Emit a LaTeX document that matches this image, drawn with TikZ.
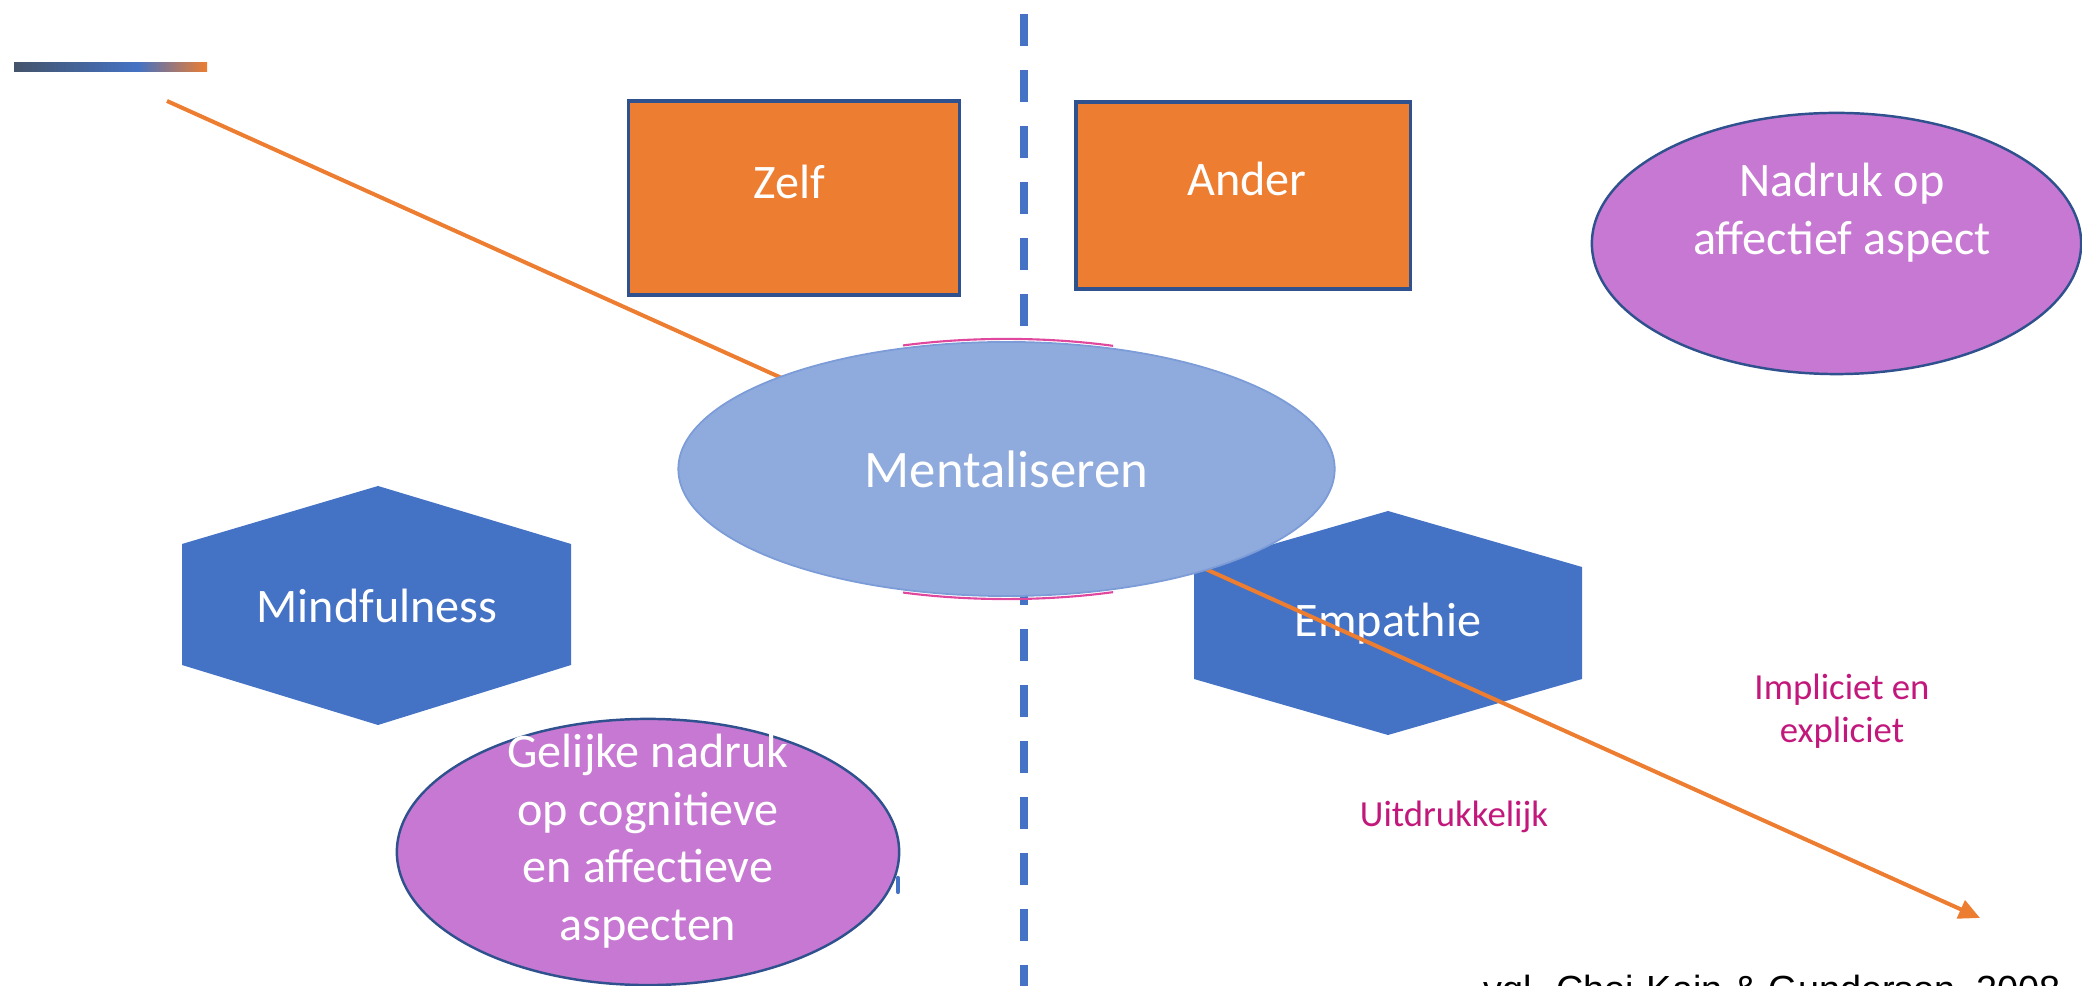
\documentclass[tikz,border=0pt]{standalone}
\usepackage{fontspec}
\setmainfont{Carlito}
\newfontfamily\bronfont{Liberation Sans}
\usepackage{xcolor}
\usepackage{tikz}
\usetikzlibrary{shapes.geometric}
\usetikzlibrary{arrows.meta}
\definecolor{oranje}{HTML}{ED7D31}
\definecolor{blauw}{HTML}{4472C4}
\definecolor{lichtblauw}{HTML}{8FAADC}
\definecolor{randblauw}{HTML}{7C9CD8}
\definecolor{donkerblauw}{HTML}{2F528F}
\definecolor{paars}{HTML}{C778D2}
\definecolor{tekstroze}{HTML}{C2187C}
\definecolor{boogroze}{HTML}{E0489E}
\definecolor{leisteen}{HTML}{44546A}
\pgfdeclarehorizontalshading{balk}{100bp}{color(0bp)=(leisteen); color(25bp)=(leisteen); color(57bp)=(blauw); color(75bp)=(oranje); color(100bp)=(oranje)}
\tikzset{
  vak/.style={rectangle, draw=donkerblauw, line width=0.9pt, fill=oranje},
  ovaal/.style={ellipse, draw=donkerblauw, line width=0.7pt, fill=paars},
  zeshoek/.style={fill=blauw},
  wit/.style={text=white, align=center, font=\fontsize{13.7}{16.4}\selectfont},
  klein/.style={text=tekstroze, align=center, font=\fontsize{10.45}{12.2}\selectfont}
}

\begin{document}
\begin{tikzpicture}[x=0.01cm, y=-0.01cm]
\useasboundingbox (0,0) rectangle (2082,986);
\fill[shading=balk] (14,63) rectangle (207,72);
\node[vak, minimum width=3.30cm, minimum height=1.94cm] (zelf) at (794,198) {};
\node[wit] (zelftekst) at (789,182) {Zelf};
\node[vak, minimum width=3.34cm, minimum height=1.87cm] (ander) at (1243,195.5) {};
\node[wit] (andertekst) at (1247,179) {Ander};
\node[ovaal, minimum width=4.89cm, minimum height=2.61cm] (nadruk) at (1836.5,243.5) {};
\node[wit] (nadruktekst) at (1842,213) {Nadruk op\\affectief aspect};
\coordinate (lijnboven) at (1024,14);
\coordinate (lijnonder) at (1024,1000);
\draw[blauw, line width=2.28pt, dash pattern=on 9.1pt off 6.8pt] (lijnboven) -- (lijnonder);
\fill[zeshoek] (378,486) -- (571,544) -- (571,665) -- (378,725) -- (182,665) -- (182,544) -- cycle;
\node[wit] (mindfulness) at (377,606) {Mindfulness};
\fill[zeshoek] (1388,511) -- (1582,567) -- (1582,679) -- (1388,735) -- (1194,679) -- (1194,567) -- cycle;
\node[wit] (empathie) at (1388,624) {Empathie};
\node[ovaal, minimum width=5.02cm, minimum height=2.66cm] (gelijke) at (648,852) {};
\node[wit] (gelijketekst) at (648,841) {Gelijke nadruk\\op cognitieve\\en affectieve\\aspecten};
\draw[blauw, line width=1.2pt, line cap=round] (898,878) -- (898,892);
\coordinate (lijnstart) at (167,101);
\coordinate (pijlpunt) at (1980,918);
\draw[oranje, line width=1.14pt, -{Triangle[length=6pt,width=5.5pt]}] (lijnstart) -- (pijlpunt);
\begin{scope}
\clip (903,300) rectangle (1113,640);
\draw[boogroze, line width=0.6pt] (1006.5,469) ellipse [x radius=3.3cm, y radius=1.3cm];
\end{scope}
\node[ellipse, fill=lichtblauw, draw=randblauw, line width=0.5pt, minimum width=6.56cm,
  minimum height=2.54cm, text=white, font=\fontsize{15}{18}\selectfont] (mentaliseren) at (1006.5,469) {Mentaliseren};
\node[klein] (impliciet) at (1842,711) {Impliciet en\\expliciet};
\node[klein] (uitdrukkelijk) at (1454,817) {Uitdrukkelijk};
\node[anchor=base west, inner sep=0pt, font=\bronfont\fontsize{10.75}{13}\selectfont] (bron) at (1483,1002) {vgl. Choi-Kain \& Gunderson, 2008};
\end{tikzpicture}
\end{document}
